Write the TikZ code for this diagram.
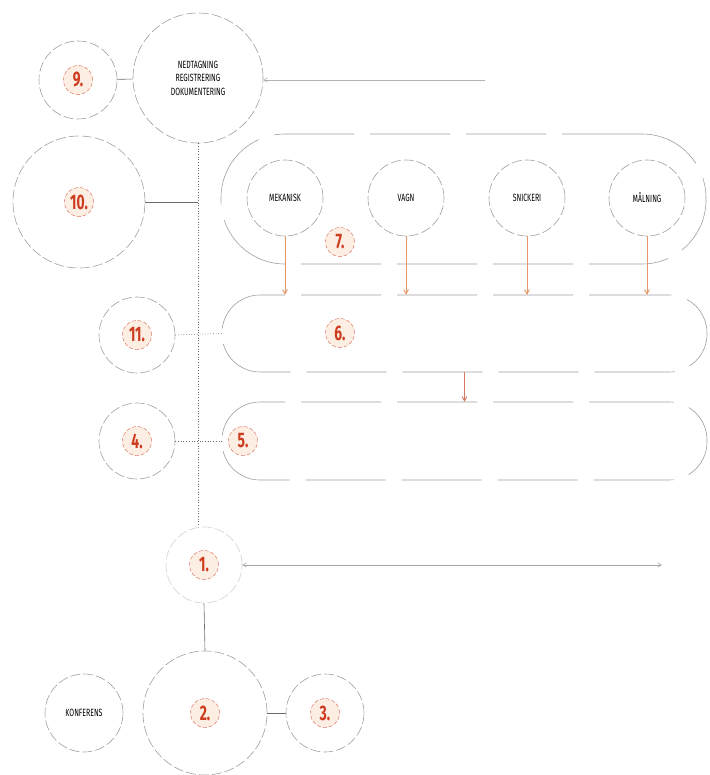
\documentclass[tikz,border=0pt]{standalone}
\usepackage{fontspec}
\newfontfamily\condfont{Fira Sans}[FakeStretch=0.66]
\usetikzlibrary{arrows,positioning,shapes}
\definecolor{numred}{RGB}{205,60,30}
\definecolor{numfill}{RGB}{253,238,228}
\definecolor{arrorange}{RGB}{228,150,100}
\begin{document}
\begin{tikzpicture}[x=1pt,y=-1pt,>=angle 60,
dcirc/.style={circle,draw=gray!75,dash pattern=on 10pt off 3pt,line width=0.6pt,inner sep=0pt,font=\condfont\fontsize{10.5}{13.5}\selectfont,align=center},
numtag/.style={circle,draw=numred!80,dash pattern=on 4pt off 2pt,fill=numfill,text=numred,inner sep=0pt,minimum size=29,font=\condfont\bfseries\fontsize{21}{21}\selectfont},
lane/.style={rectangle,draw=gray!75,dash pattern=on 80pt off 16pt,line width=0.6pt,minimum width=485,inner sep=0pt},
link/.style={draw=gray!85!black,line width=0.6pt},
dlink/.style={draw=gray!85!black,line width=0.7pt,dotted},
down/.style={->,draw=arrorange,line width=0.9pt}]
\useasboundingbox (0,0) rectangle (709,775);
% top part
\node[dcirc,minimum size=78] (c9) at (78,80) {};
\node[numtag] (t9) at (c9) {9.};
\node[dcirc,minimum size=130] (mrd) at (198,78) {NEDTAGNING\\REGISTRERING\\DOKUMENTERING};
\node[dcirc,minimum size=132] (c10) at (79,202) {};
\node[numtag] (t10) at (c10) {10.};
\coordinate (topend) at (485,80);
\draw[link] (c9) -- (mrd);
\draw[link,draw=gray!60,->] (topend) -- (mrd.east |- topend);
% group 7
\node[lane,minimum height=130,rounded corners=64] (g7) at (463.5,199) {};
\node[dcirc,minimum size=76] (mek) at (285,198) {MEKANISK};
\node[dcirc,minimum size=76] (vagn) at (406,198) {VAGN};
\node[dcirc,minimum size=76] (snick) at (527,198) {SNICKERI};
\node[dcirc,minimum size=76] (maln) at (647,198) {MÅLNING};
\node[numtag] (t7) at (340,242) {7.};
% lanes 6 and 5
\node[lane,minimum height=77,rounded corners=38] (b6) at (464.5,333.5) {};
\node[numtag] (t6) at (340,333) {6.};
\node[lane,minimum height=78,rounded corners=38] (b5) at (464.5,441) {};
\node[numtag] (t5) at (243,441) {5.};
\foreach \c in {mek,vagn,snick,maln}
  \draw[down] (\c.south) -- (\c.south |- b6.north);
\draw[down,draw=numred!70] (b6.south) -- (b5.north);
\node[dcirc,minimum size=76] (c11) at (137,335) {};
\node[numtag] (t11) at (c11) {11.};
\node[dcirc,minimum size=76] (c4) at (137,441) {};
\node[numtag] (t4) at (c4) {4.};
% bottom part
\node[dcirc,draw=gray!35,minimum size=76] (c1) at (204,565) {};
\node[numtag] (t1) at (c1) {1.};
\node[dcirc,minimum size=124] (c2) at (205,713) {};
\node[numtag] (t2) at (c2) {2.};
\node[dcirc,minimum size=78] (c3) at (325,713) {};
\node[numtag] (t3) at (c3) {3.};
\node[dcirc,minimum size=78] (konf) at (84,713) {KONFERENS};
\coordinate (botend) at (662,565);
% trunk and links
\draw[dlink] (mrd.south) -- (mrd.south |- c1.north);
\draw[link] (c10.east) -- (c10.east -| mrd.south);
\draw[dlink] (c11.east) -- (b6.west);
\draw[dlink] (c4.east) -- (b5.west);
\draw[link,draw=gray!70,<->] (c1.east) -- (botend);
\draw[link] (c1.south) -- (c2.north);
\draw[link] (c2.east) -- (c3.west);
\end{tikzpicture}
\end{document}
